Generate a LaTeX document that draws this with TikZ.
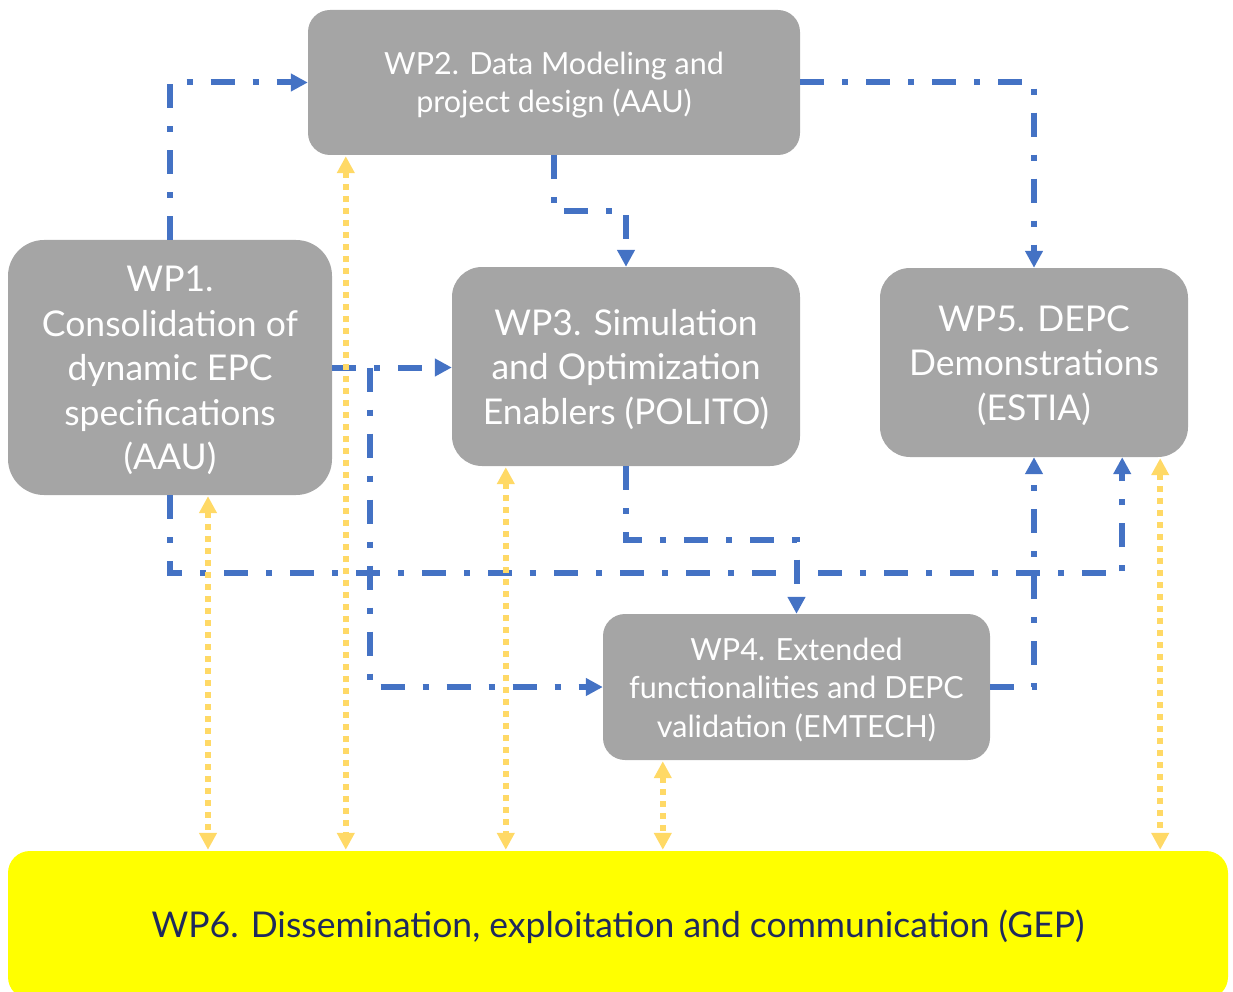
\documentclass[tikz,border=0pt]{standalone}
\usepackage{fontspec}
\setmainfont{Lato}
\usetikzlibrary{arrows.meta,calc}
\definecolor{boxgray}{HTML}{A5A5A5}
\definecolor{lineblue}{HTML}{4472C4}
\definecolor{lineyellow}{HTML}{FFD966}
\definecolor{wpyellow}{HTML}{FFFF00}
\definecolor{navy}{HTML}{1F2A5C}
\newcommand{\bigstrut}{\rule{0pt}{32pt}}
\newcommand{\smallstrut}{\rule{0pt}{28pt}}
\tikzset{
  wpbox/.style={fill=boxgray, text=white, align=center, inner sep=0pt, anchor=center},
  bigtext/.style={font=\fontsize{35.5}{44.5}\selectfont},
  smalltext/.style={font=\fontsize{30.5}{38.5}\selectfont},
  flow/.style={draw=lineblue, line width=6pt, dash pattern=on 24pt off 18pt on 6pt off 18pt,
    -{Triangle[width=17pt,length=17pt]}},
  link/.style={draw=lineyellow, line width=6pt, dash pattern=on 6pt off 6pt,
    {Triangle[width=17pt,length=17pt]}-{Triangle[width=17pt,length=17pt]}, shorten <=1pt, shorten >=1pt},
}
\begin{document}
\begin{tikzpicture}[x=1pt,y=-1pt]
\useasboundingbox (0,0) rectangle (1233,992);
\clip (0,0) rectangle (1233,992);
\node[wpbox, smalltext, rounded corners=22pt, minimum width=492pt, minimum height=145pt] (wp2) at (554,82.5)
  {\smallstrut WP2. Data Modeling and\\project design (AAU)};
\node[wpbox, bigtext, rounded corners=36pt, minimum width=324pt, minimum height=255pt] (wp1) at (170,367.5)
  {\bigstrut WP1.\\Consolidation of\\dynamic EPC\\specifications\\(AAU)};
\node[wpbox, bigtext, rounded corners=30pt, minimum width=348pt, minimum height=199pt] (wp3) at (626,366.5)
  {\bigstrut WP3. Simulation\\and Optimization\\Enablers (POLITO)};
\node[wpbox, bigtext, rounded corners=30pt, minimum width=308pt, minimum height=189pt] (wp5) at (1034,362.5)
  {\bigstrut WP5. DEPC\\Demonstrations\\(ESTIA)};
\node[wpbox, smalltext, rounded corners=22pt, minimum width=387pt, minimum height=146pt] (wp4) at (796.5,687)
  {\smallstrut WP4. Extended\\functionalities and DEPC\\validation (EMTECH)};
\node[fill=wpyellow, text=navy, rounded corners=22pt, inner sep=0pt, minimum width=1220pt, minimum height=148pt,
  font=\fontsize{35.5}{40}\selectfont] (wp6) at (618,925)
  {\bigstrut WP6. Dissemination, exploitation and communication (GEP)};

% blue flows
\draw[flow] (wp1.north) |- (wp2.west);
\draw[flow] (wp2.east) -| (wp5.north);
\draw[flow] (wp2.south) -- ++(0,56) -| (wp3.north);
\draw[flow] (wp1.east) -- (wp1.east -| wp3.west);
\coordinate (split) at ($(wp1.east)+(38,0)$);
\draw[flow] (split) |- (wp4.west);
\coordinate (wp5in) at ($(wp5.south east)+(-66,0)$);
\draw[flow] (wp1.south) -- ++(0,78) -| (wp5in);
\draw[flow] (wp3.south) -- ++(0,74) -| (wp4.north);
\draw[flow] (wp4.east) -| (wp5.south);

% yellow links
\coordinate (y1) at ($(wp1.south)+(38,0)$);
\coordinate (y2) at ($(wp2.south west)+(38,0)$);
\coordinate (y3) at ($(wp3.south west)+(54,0)$);
\coordinate (y4) at ($(wp4.south west)+(60,0)$);
\coordinate (y5) at ($(wp5.south east)+(-28,0)$);
\foreach \c in {y1,y2,y3,y4,y5} {
  \draw[link] (\c) -- (\c |- wp6.north);
}
\end{tikzpicture}
\end{document}
